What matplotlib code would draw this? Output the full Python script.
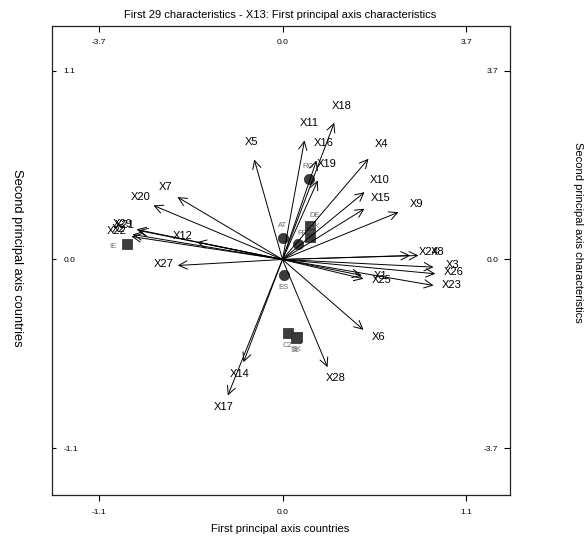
import matplotlib
matplotlib.use("Agg")
import matplotlib.pyplot as plt
import numpy as np

plt.rcParams['font.family'] = ['Liberation Sans', 'DejaVu Sans']

# ---- characteristics (arrows), characteristic-axis units ----
char_names = ['X1', 'X2', 'X3', 'X4', 'X5', 'X6', 'X7', 'X8', 'X9', 'X10',
              'X11', 'X12', 'X14', 'X15', 'X16', 'X17', 'X18', 'X19', 'X20',
              'X21', 'X22', 'X23', 'X24', 'X25', 'X26', 'X27', 'X28', 'X29']
char_x = [1.598, -3.023, 3.043, 1.733, -0.570, 1.632, -2.116, 2.741, 2.338, 1.653,
          0.443, -1.723, -0.786, 1.653, 0.685, -1.102, 1.042, 0.711, -2.600,
          -2.902, -3.043, 3.043, 2.574, 1.632, 3.079, -2.110, 0.907, -2.942]
char_y = [-0.314, 0.491, -0.151, 1.976, 1.962, -1.380, 1.223, 0.078, 0.928, 1.321,
          2.335, 0.339, -2.015, 0.995, 1.943, -2.669, 2.683, 1.550, 1.060,
          0.569, 0.451, -0.510, 0.078, -0.379, -0.281, -0.118, -2.113, 0.589]

# ---- countries (points), country-axis units ----
country_names = ['AT', 'FR', 'ES', 'RO', 'DE', 'DK', 'IE', 'CZ', 'SK', 'SL']
country_x = [0.000, 0.092, 0.006, 0.156, 0.166, 0.166, -0.933, 0.032, 0.086, 0.078]
country_y = [0.127, 0.092, -0.093, 0.471, 0.198, 0.130, 0.092, -0.430, -0.453, -0.458]
country_shape = ['o', 'o', 'o', 'o', 's', 's', 's', 's', 's', 's']
country_label_side = ['up', 'upr', 'down', 'up', 'upr', 'upr', 'left', 'down', 'down', 'down']

# tick labels
country_ticks = [-1.1, 0.0, 1.1]
char_ticks = [-3.7, 0.0, 3.7]

W, H = 585, 539
fig = plt.figure(figsize=(W / 100, H / 100), dpi=100)
rect = [52 / W, (H - 495) / H, 458 / W, 469 / H]
ax = fig.add_axes(rect)
xlim = (-1.381, 1.363)
ylim = (-1.374, 1.362)
ax.set_xlim(*xlim)
ax.set_ylim(*ylim)
for s in ax.spines.values():
    s.set_linewidth(0.9)
    s.set_color('#222222')

ax.set_xticks(country_ticks)
ax.set_xticklabels(['%.1f' % t for t in country_ticks])
ax.set_yticks(country_ticks)
ax.set_yticklabels(['%.1f' % t for t in country_ticks])
ax.tick_params(axis='x', direction='out', length=4, width=0.8, labelsize=6, pad=6)
ax.tick_params(axis='y', direction='in', length=3, width=0.8, labelsize=6, pad=-8.5)
for lab in ax.get_yticklabels():
    lab.set_ha('left')

# secondary axes for characteristics
k = 3.7 / 1.1
ax2 = fig.add_axes(rect, frameon=False)
ax2.patch.set_alpha(0)
ax2.set_xlim(xlim[0] * k, xlim[1] * k)
ax2.set_ylim(ylim[0] * k, ylim[1] * k)
ax2.xaxis.tick_top()
ax2.yaxis.tick_right()
ax2.set_xticks(char_ticks)
ax2.set_xticklabels(['%.1f' % t for t in char_ticks])
ax2.set_yticks(char_ticks)
ax2.set_yticklabels(['%.1f' % t for t in char_ticks])
ax2.tick_params(axis='x', direction='in', length=4, width=0.8, labelsize=6, pad=-9)
ax2.tick_params(axis='y', direction='in', length=4, width=0.8, labelsize=6, pad=-8.5)
for lab in ax2.get_xticklabels():
    lab.set_va('top')
for lab in ax2.get_yticklabels():
    lab.set_ha('right')

# countries
offsets = {'up': (0, 8.5), 'upr': (3.5, 7.5), 'down': (0, -9), 'left': (-10, -2)}
for name, x, y, mk, side in zip(country_names, country_x, country_y, country_shape, country_label_side):
    ax.scatter([x], [y], marker=mk, s=55, color='#3c3c3c', edgecolors='#2a2a2a', linewidths=0.5, zorder=2)
    ax.annotate(name, xy=(x, y), xytext=offsets[side], textcoords='offset points',
                ha='center', va='center', fontsize=5.5, color='#6a6a6a', zorder=2)

# arrows
px_x = 458 / (xlim[1] - xlim[0]) / k
px_y = 469 / (ylim[1] - ylim[0]) / k
for name, x, y in zip(char_names, char_x, char_y):
    ax2.annotate('', xy=(x, y), xytext=(0, 0),
                 arrowprops=dict(arrowstyle='->,head_length=0.6,head_width=0.3',
                                 lw=0.7, color='black', shrinkA=0, shrinkB=0),
                 zorder=3)
    dx, dy = x * px_x, y * px_y
    n = np.hypot(dx, dy)
    ux, uy = dx / n, dy / n
    ax2.annotate(name, xy=(x, y), xytext=(ux * 12 + 1.5, uy * 11 + 2), textcoords='offset points',
                 ha='center', va='center', fontsize=8, zorder=4)

fig.text(280 / W, 1 - 15 / H, 'First 29 characteristics - X13: First principal axis characteristics',
         ha='center', va='center', fontsize=8)
fig.text(280 / W, 1 - 529 / H, 'First principal axis countries', ha='center', va='center', fontsize=8)
fig.text(17 / W, 1 - 258 / H, 'Second principal axis countries', ha='center', va='center',
         fontsize=9.3, rotation=-90)
fig.text(578 / W, 1 - 232 / H, 'Second principal axis characteristics', ha='center', va='center',
         fontsize=8, rotation=-90)

fig.savefig('out.png', dpi=100)
